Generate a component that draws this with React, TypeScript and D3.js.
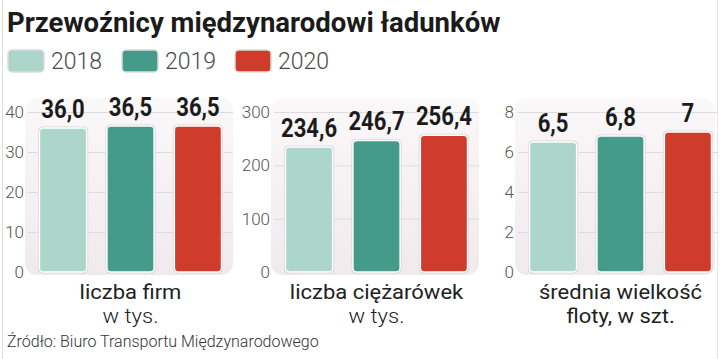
import { useEffect, useRef } from 'react';
import * as d3 from 'd3';

const years = ['2018', '2019', '2020'];

const firmValues = [36.0, 36.5, 36.5];
const firmLabels = ['36,0', '36,5', '36,5'];
const firmTicks = [0, 10, 20, 30, 40];

const truckValues = [234.6, 246.7, 256.4];
const truckLabels = ['234,6', '246,7', '256,4'];
const truckTicks = [0, 100, 200, 300];

const fleetValues = [6.5, 6.8, 7];
const fleetLabels = ['6,5', '6,8', '7'];
const fleetTicks = [0, 2, 4, 6, 8];

const panelTitles = [
  ['liczba firm', 'w tys.'],
  ['liczba ciężarówek', 'w tys.'],
  ['średnia wielkość', 'floty, w szt.'],
];

const title = 'Przewoźnicy międzynarodowi ładunków';
const source = 'Źródło: Biuro Transportu Międzynarodowego';

function App() {
  const svgRef = useRef<SVGSVGElement>(null);

  const width = 720,
    height = 359;

  useEffect(() => {
    const svg = d3.select(svgRef.current);
    svg.selectAll('*').remove();

    const color = d3.scaleOrdinal<string>().domain(years).range(['#acd6c9', '#449b8a', '#cf3c2c']);

    const defs = svg.append('defs');
    const grad = defs
      .append('linearGradient')
      .attr('id', 'panelBg')
      .attr('x1', 0)
      .attr('x2', 0)
      .attr('y1', 0)
      .attr('y2', 1);
    grad.append('stop').attr('offset', '0%').attr('stop-color', '#fbf8f9');
    grad.append('stop').attr('offset', '100%').attr('stop-color', '#f0eaed');

    // frame lines
    svg.append('line').attr('x1', 2.5).attr('x2', 2.5).attr('y1', 0).attr('y2', height).attr('stroke', '#dedede');
    svg.append('line').attr('x1', 717.5).attr('x2', 717.5).attr('y1', 0).attr('y2', height).attr('stroke', '#e6e6e6');

    svg
      .append('text')
      .text(title)
      .attr('x', 7)
      .attr('y', 32)
      .style('font-family', 'Roboto, sans-serif')
      .style('font-weight', 700)
      .style('font-size', '27.5px')
      .attr('fill', '#1b1b1b');

    // legend
    const legendX = [8, 122, 235];
    const legend = svg
      .selectAll('g.legend')
      .data(years)
      .join('g')
      .attr('class', 'legend')
      .attr('transform', (d, i) => `translate(${legendX[i]},50)`);
    legend
      .append('rect')
      .attr('width', 36)
      .attr('height', 22)
      .attr('rx', 4)
      .attr('fill', (d) => color(d))
      .attr('stroke', '#dcdcdc')
      .attr('stroke-width', 1.5);
    legend
      .append('text')
      .text((d) => d)
      .attr('x', 43)
      .attr('y', 19)
      .style('font-family', 'Roboto, sans-serif')
      .style('font-weight', 300)
      .style('font-size', '23px')
      .attr('fill', '#4a4a4a');

    const panels = [
      { values: firmValues, labels: firmLabels, ticks: firmTicks, x0: 28 },
      { values: truckValues, labels: truckLabels, ticks: truckTicks, x0: 274 },
      { values: fleetValues, labels: fleetLabels, ticks: fleetTicks, x0: 518 },
    ];

    const plotW = 205,
      yTop = 112,
      yBottom = 272;

    panels.forEach((p, pi) => {
      const g = svg.append('g').attr('transform', `translate(${p.x0},0)`);
      const x = d3.scaleBand().domain(years).range([0, plotW]).paddingInner(0.3).paddingOuter(0.17);
      const y = d3
        .scaleLinear()
        .domain([0, d3.max(p.ticks) as number])
        .range([yBottom, yTop]);

      g.append('rect')
        .attr('x', -3)
        .attr('y', yTop - 14)
        .attr('width', pi === 2 ? 200 : plotW + 3)
        .attr('height', yBottom - yTop + 17)
        .attr('rx', 12)
        .attr('fill', 'url(#panelBg)');

      g.selectAll('line.grid')
        .data(p.ticks.filter((t) => t > 0))
        .join('line')
        .attr('class', 'grid')
        .attr('x1', 0)
        .attr('x2', pi === 2 ? 200 : plotW)
        .attr('y1', (d) => y(d) + 0.5)
        .attr('y2', (d) => y(d) + 0.5)
        .attr('stroke', '#dcdcdc');

      g.selectAll('text.tick')
        .data(p.ticks)
        .join('text')
        .attr('class', 'tick')
        .text((d) => d)
        .attr('x', -4)
        .attr('y', (d) => y(d) + 6)
        .attr('text-anchor', 'end')
        .style('font-family', 'Roboto, sans-serif')
        .style('font-weight', 300)
        .style('font-size', '17px')
        .attr('fill', '#555');

      const bars = g.selectAll('g.bar').data(p.values).join('g').attr('class', 'bar');
      bars
        .append('rect')
        .attr('x', (d, i) => (x(years[i]) as number) - 1.5)
        .attr('y', (d) => y(d) - 1.5)
        .attr('width', x.bandwidth() + 3)
        .attr('height', (d) => yBottom - y(d) + 3)
        .attr('rx', 5)
        .attr('fill', '#d9d6d7');
      bars
        .append('rect')
        .attr('x', (d, i) => x(years[i]) as number)
        .attr('y', (d) => y(d))
        .attr('width', x.bandwidth())
        .attr('height', (d) => yBottom - y(d))
        .attr('rx', 4)
        .attr('fill', (d, i) => color(years[i]))
        .attr('stroke', '#fff')
        .attr('stroke-width', 1.5);

      g.selectAll('text.value')
        .data(p.values)
        .join('text')
        .attr('class', 'value')
        .text((d, i) => p.labels[i])
        .attr(
          'transform',
          (d, i) => `translate(${(x(years[i]) as number) + x.bandwidth() / 2},${y(d) - 10}) scale(0.85,1)`,
        )
        .attr('text-anchor', 'middle')
        .style('font-family', 'Roboto, sans-serif')
        .style('font-weight', 700)
        .style('font-size', '26px')
        .attr('fill', '#1b1b1b');

      g.selectAll('text.ptitle')
        .data(panelTitles[pi])
        .join('text')
        .attr('class', 'ptitle')
        .text((d) => d)
        .attr('transform', (d, i) => `translate(${plotW / 2},${299 + i * 24}) scale(1.1,1)`)
        .attr('text-anchor', 'middle')
        .style('font-family', 'Roboto, sans-serif')
        .style('font-weight', (d, i) => (i === 0 || pi === 2 ? 400 : 300))
        .style('font-size', '20px')
        .attr('fill', '#222');
    });

    svg
      .append('text')
      .text(source)
      .attr('transform', 'translate(7,347)')
      .style('font-family', 'Roboto, sans-serif')
      .style('font-weight', 300)
      .style('font-size', '16px')
      .attr('fill', '#333');
  }, []);

  return (
    <svg
      ref={svgRef}
      width={width}
      height={height}
      viewBox={`0 0 ${width} ${height}`}
      style={{ position: 'absolute', left: 0, top: 0, background: '#fff' }}
    ></svg>
  );
}

export default App;
